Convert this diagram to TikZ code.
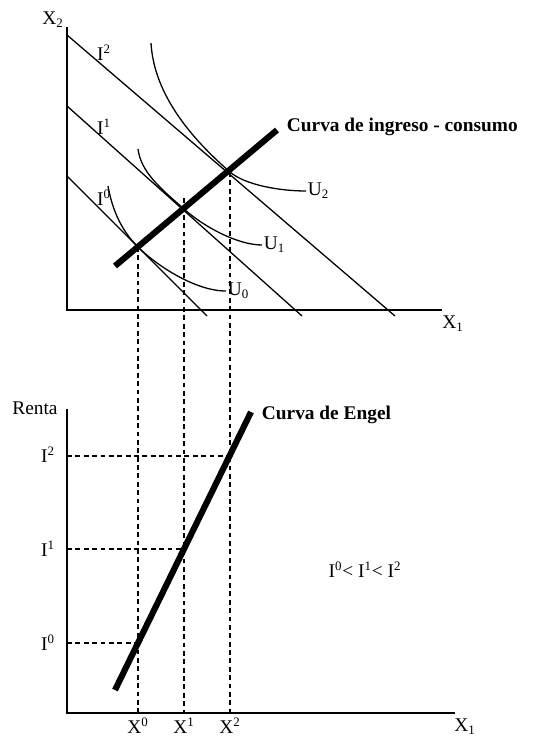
\documentclass[tikz,border=0pt]{standalone}
\usepackage{fontspec}
\setmainfont{Liberation Serif}

\begin{document}
\begin{tikzpicture}[
    x=0.62pt, y=-0.62pt,
    % Estilos de las lineas y textos
    eje/.style={line width=0.9pt, draw=black},
    presupuesto/.style={line width=0.8pt, draw=black},
    indif/.style={line width=0.8pt, draw=black},
    gruesa/.style={line width=3.8pt, draw=black},
    guia/.style={line width=0.8pt, dash pattern=on 3pt off 2.2pt, draw=black},
    texto/.style={font=\fontsize{12}{14}\selectfont, inner sep=1pt},
    titulo/.style={font=\fontsize{12}{14}\selectfont\bfseries, inner sep=1pt, anchor=west}
]
\useasboundingbox (0,0) rectangle (534,738);

% --- PANEL SUPERIOR: EJES ---
\coordinate (o1) at (67,310);
\coordinate (ytop1) at (67,27);
\coordinate (xend1) at (442,310);
\draw[eje] (ytop1) -- (o1) -- (xend1);
\node[texto] (x2top) at (53,20) {X\textsubscript{2}};
\node[texto] (x1top) at (453,324) {X\textsubscript{1}};

% --- RECTAS DE PRESUPUESTO ---
\coordinate (i0a) at (67,176);
\coordinate (i0b) at (207,316);
\coordinate (i1a) at (67,106);
\coordinate (i1b) at (302,316);
\coordinate (i2a) at (67,35);
\coordinate (i2b) at (395,316);
\draw[presupuesto] (i0a) -- (i0b);
\draw[presupuesto] (i1a) -- (i1b);
\draw[presupuesto] (i2a) -- (i2b);
\node[texto] (li0) at (104,198) {I\textsuperscript{0}};
\node[texto] (li1) at (104,127) {I\textsuperscript{1}};
\node[texto] (li2) at (104,53) {I\textsuperscript{2}};

% --- PUNTOS DE TANGENCIA ---
\coordinate (A0) at (138,247);
\coordinate (A1) at (184,209);
\coordinate (A2) at (230,172);

% --- CURVAS DE INDIFERENCIA ---
\node[texto, anchor=west] (u0) at (226,291) {U\textsubscript{0}};
\node[texto, anchor=west] (u1) at (262,245) {U\textsubscript{1}};
\node[texto, anchor=west] (u2) at (306,191) {U\textsubscript{2}};
\coordinate (u0ini) at (108,186);
\coordinate (u1ini) at (138,149);
\coordinate (u2ini) at (151,43);
\draw[indif] (u0ini) .. controls (112,208) and (120,229) .. (A0)
    .. controls (156,265) and (195,291) .. (u0.west);
\draw[indif] (u1ini) .. controls (141,172) and (160,188) .. (A1)
    .. controls (204,227) and (238,245) .. (u1.west);
\draw[indif] (u2ini) .. controls (154,95) and (192,139) .. (A2)
    .. controls (245,185) and (280,191) .. (u2.west);

% --- PANEL INFERIOR: EJES ---
\coordinate (o2) at (67,713);
\coordinate (ytop2) at (67,409);
\coordinate (xend2) at (455,713);
\draw[eje] (ytop2) -- (o2) -- (xend2);
\node[texto] (renta) at (35,408) {Renta};
\node[texto] (x1bot) at (465,727) {X\textsubscript{1}};

% --- PUNTOS DE LA CURVA DE ENGEL ---
\coordinate (E0) at (138,643);
\coordinate (E1) at (184,549);
\coordinate (E2) at (230,456);
\coordinate (b0) at (138,713);
\coordinate (b1) at (184,713);
\coordinate (b2) at (230,713);
\coordinate (r0) at (67,643);
\coordinate (r1) at (67,549);
\coordinate (r2) at (67,456);

\node[texto] (lx0) at (138,726) {X\textsuperscript{0}};
\node[texto] (lx1) at (184,726) {X\textsuperscript{1}};
\node[texto] (lx2) at (230,726) {X\textsuperscript{2}};
\node[texto] (lr0) at (48,643) {I\textsuperscript{0}};
\node[texto] (lr1) at (48,549) {I\textsuperscript{1}};
\node[texto] (lr2) at (48,455) {I\textsuperscript{2}};

% lineas guia punteadas
\coordinate (g1) at (184,198);
\draw[guia] (A0) -- (b0);
\draw[guia] (g1) -- (b1);
\draw[guia] (A2) -- (b2);
\draw[guia] (r0) -- (E0);
\draw[guia] (r1) -- (E1);
\draw[guia] (r2) -- (E2);

% --- CURVA DE INGRESO-CONSUMO ---
\coordinate (icc1) at (115,266);
\coordinate (icc2) at (277,130);
\draw[gruesa] (icc1) -- (icc2);
\node[titulo] (icc) at (285,127) {Curva de ingreso - consumo};

% --- CURVA DE ENGEL ---
\coordinate (en1) at (115,690);
\coordinate (en2) at (251,412);
\draw[gruesa] (en1) -- (en2);
\node[titulo] (engel) at (260,415) {Curva de Engel};

\node[texto] (orden) at (365,570) {I\textsuperscript{0}< I\textsuperscript{1}< I\textsuperscript{2}};

\end{tikzpicture}
\end{document}
